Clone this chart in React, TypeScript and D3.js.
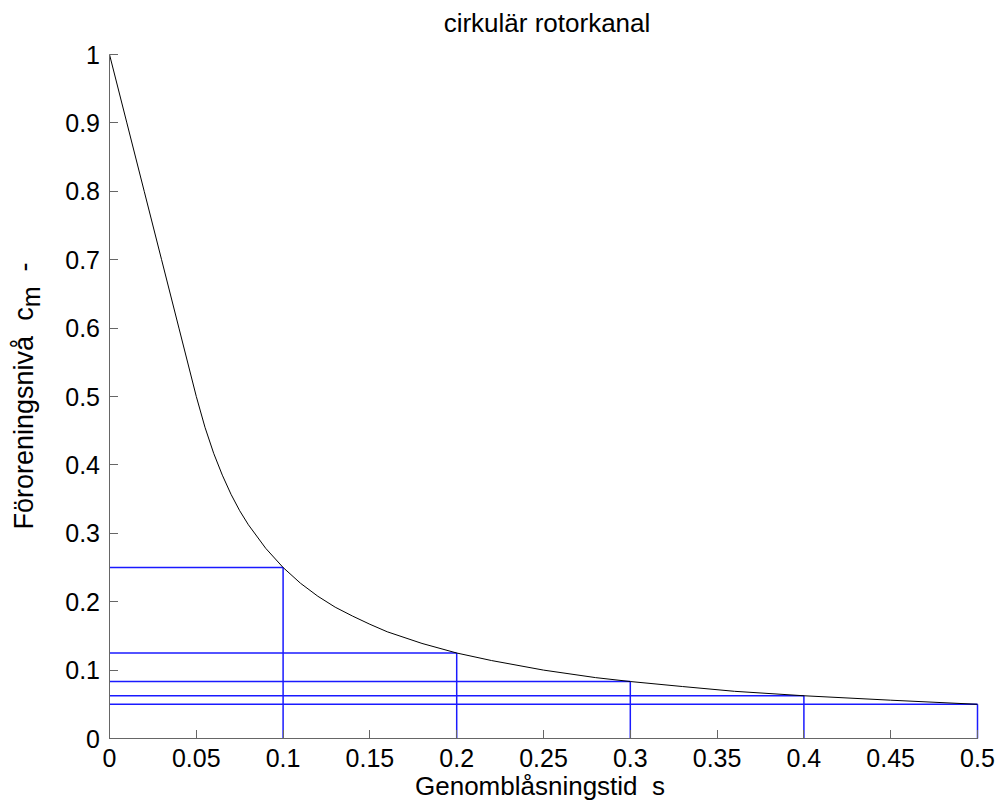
import React from "react";
import * as d3 from "d3";

const curveT = [0, 0.01, 0.02, 0.03, 0.04, 0.05, 0.055, 0.06, 0.065, 0.07, 0.075, 0.08, 0.09, 0.1, 0.11, 0.12, 0.13, 0.14, 0.15, 0.16, 0.18, 0.2, 0.22, 0.25, 0.28, 0.3, 0.33, 0.36, 0.4, 0.45, 0.5];
const curveC = [1, 0.9, 0.8, 0.7, 0.6, 0.5, 0.455, 0.417, 0.385, 0.357, 0.333, 0.3125, 0.278, 0.25, 0.227, 0.208, 0.192, 0.179, 0.167, 0.156, 0.139, 0.125, 0.114, 0.1, 0.089, 0.0833, 0.076, 0.069, 0.0625, 0.056, 0.05];
const markT = [0.1, 0.2, 0.3, 0.4, 0.5];
const markC = [0.25, 0.125, 0.0833, 0.0625, 0.05];
const xTicks = [0, 0.05, 0.1, 0.15, 0.2, 0.25, 0.3, 0.35, 0.4, 0.45, 0.5];
const yTicks = [0, 0.1, 0.2, 0.3, 0.4, 0.5, 0.6, 0.7, 0.8, 0.9, 1];
const title = "cirkulär rotorkanal";
const xLabel = "Genomblåsningstid  s";
const yLabelMain = "Föroreningsnivå  c";
const yLabelSub = "m";
const yLabelUnit = "  -";

export default function App() {
  const W = 996, H = 805;
  const L = 109.5, R = 977.5, T = 54.5, B = 738.5;
  const x = d3.scaleLinear().domain([0, 0.5]).range([L, R]);
  const y = d3.scaleLinear().domain([0, 1]).range([B, T]);
  const pts = curveT.map((t, i) => [t, curveC[i]] as [number, number]);
  const line = d3.line<[number, number]>().x(d => x(d[0])).y(d => y(d[1]));
  const font = "Arial, 'Liberation Sans', sans-serif";
  const axisColor = "#666";
  const pre = { whiteSpace: "pre" as const };
  return (
    <svg width={W} height={H} style={{ position: "absolute", left: 0, top: 0, background: "#fff" }} fontFamily={font}>
      <rect width={W} height={H} fill="#fff" />
      {markT.map((t, i) => (
        <g key={i} stroke="#1a1aff" strokeWidth={1.5} fill="none">
          <line x1={x(0)} x2={x(t)} y1={y(markC[i])} y2={y(markC[i])} />
          <line x1={x(t)} x2={x(t)} y1={y(0)} y2={y(markC[i])} />
        </g>
      ))}
      <path d={line(pts) || ""} fill="none" stroke="#000" strokeWidth={1} />
      <g shapeRendering="crispEdges">
        <line x1={L} x2={R} y1={B} y2={B} stroke={axisColor} />
        <line x1={L} x2={L} y1={T} y2={B} stroke={axisColor} />
        {xTicks.map((t, i) => (
          <line key={i} x1={x(t)} x2={x(t)} y1={B} y2={B - 9} stroke={axisColor} />
        ))}
        {yTicks.map((v, i) => (
          <line key={i} x1={L} x2={L + 8} y1={y(v)} y2={y(v)} stroke={axisColor} />
        ))}
      </g>
      {xTicks.map((t, i) => (
        <text key={i} x={x(t)} y={767} textAnchor="middle" fontSize={25} fill="#000">{String(t)}</text>
      ))}
      {yTicks.map((v, i) => (
        <text key={i} x={100} y={y(v) + 9} textAnchor="end" fontSize={25} fill="#000">{String(v)}</text>
      ))}
      <text x={547} y={32} textAnchor="middle" fontSize={26} fill="#000">{title}</text>
      <text x={540} y={795} textAnchor="middle" fontSize={26} fill="#000" style={pre}>{xLabel}</text>
      <text transform="translate(33,396) rotate(-90)" textAnchor="middle" fontSize={27} fill="#000" style={pre}>
        {yLabelMain}<tspan dy={7} fontSize={25}>{yLabelSub}</tspan><tspan dy={-7}>{yLabelUnit}</tspan>
      </text>
    </svg>
  );
}
